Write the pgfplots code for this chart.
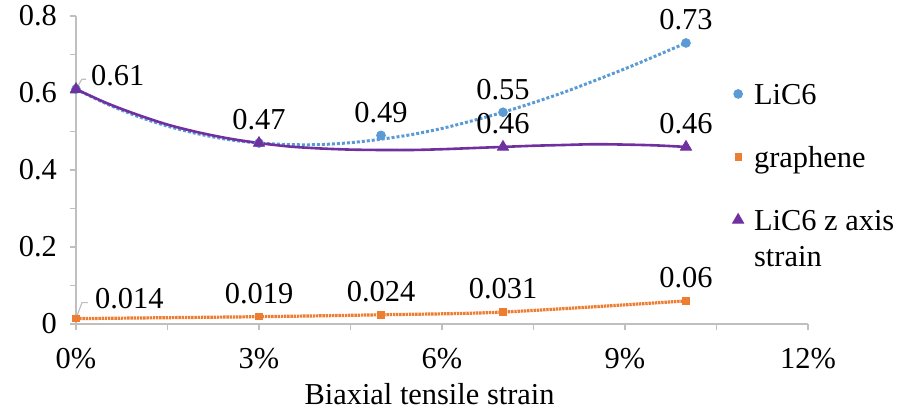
\documentclass[border=0pt]{standalone}
\usepackage{pgfplots}
\pgfplotsset{compat=1.18}
\usepackage{fontspec}
\setmainfont{Liberation Serif}
\newfontfamily\tnr{Liberation Serif}
\newcommand\lf{\tnr\fontsize{15.2}{18}\selectfont}
\definecolor{cblue}{HTML}{5B9BD5}
\definecolor{corange}{HTML}{ED7D31}
\definecolor{cpurple}{HTML}{7030A0}
\definecolor{axgray}{HTML}{BFBFBF}
\begin{document}
\begin{tikzpicture}[font=\lf]
\begin{axis}[
  name=ax, at={(0,0)}, anchor=south west,
  scale only axis, width=366pt, height=154pt,
  xmin=0, xmax=12, ymin=0, ymax=0.8,
  axis x line*=bottom, axis y line*=left,
  axis line style={axgray, line width=0.8pt, -},
  xtick={0,3,6,9,12}, xticklabels={0\%,3\%,6\%,9\%,12\%},
  minor xtick={1.5,4.5,7.5,10.5},
  ytick={0,0.2,0.4,0.6,0.8}, yticklabels={0,0.2,0.4,0.6,0.8},
  minor ytick={0.1,0.3,0.5,0.7},
  tick style={axgray, line width=0.8pt},
  tick align=outside, major tick length=3pt, minor tick length=3pt,
  tick label style={font=\lf},
  xticklabel style={yshift=-5.5pt},
  yticklabel style={xshift=-3pt},
  xlabel={Biaxial tensile strain},
  xlabel style={at={(axis description cs:0.483,0)}, anchor=north, yshift=-26pt, font=\lf},
  clip=false,
  legend style={at={(axis cs:10.75,0.636)}, anchor=north west, draw=none, fill=none,
    row sep=13.5pt, cells={anchor=base west}, inner sep=0pt,
    nodes={inner sep=0pt, text height=12.6pt, text depth=5.4pt},
    font=\lf},
  legend cell align=left,
  legend image code/.code={\path[draw=none,fill=none] (0pt,1.8pt) -- (11pt,1.8pt); \draw[mark repeat=2,mark phase=2,#1] plot coordinates {(0pt,1.8pt) (3pt,1.8pt) (6pt,1.8pt)};},
  lbl/.style={nodes near coords, point meta=explicit symbolic,
    every node near coord/.append style={anchor=center, yshift=11.5pt, text=black, font=\lf}},
]
% trend curves
\addplot[cblue, line width=1.5pt, densely dotted, smooth, forget plot] coordinates {
(0,0.610)(0.5,0.572)(1,0.540)(1.5,0.514)(2,0.494)(2.5,0.479)(3,0.470)(3.5,0.466)(4,0.466)(4.5,0.471)(5,0.480)(5.5,0.492)(6,0.508)(6.5,0.528)(7,0.550)(7.5,0.575)(8,0.602)(8.5,0.632)(9,0.663)(9.5,0.696)(10,0.730)};
\addplot[corange, line width=1.6pt, dash pattern=on 1.2pt off 0.4pt, smooth, forget plot] coordinates {
(0,0.014)(3,0.019)(5,0.024)(7,0.031)(10,0.060)};
\addplot[cpurple, line width=1.3pt, smooth, forget plot] coordinates {
(0,0.610)(0.5,0.574)(1,0.544)(1.5,0.518)(2,0.498)(2.5,0.482)(3,0.470)(3.5,0.461)(4,0.456)(4.5,0.453)(5,0.452)(5.5,0.452)(6,0.454)(6.5,0.457)(7,0.460)(7.5,0.463)(8,0.465)(8.5,0.467)(9,0.466)(9.5,0.464)(10,0.460)};
% markers with labels
\addplot[only marks, mark=*, mark size=2.2pt, color=cblue, lbl] coordinates {
(0,0.61)[] (3,0.47)[0.47] (5,0.49)[0.49] (7,0.55)[0.55] (10,0.73)[0.73]};
\addlegendentry{LiC6}
\addplot[only marks, mark=square*, mark size=1.6pt, color=corange, lbl] coordinates {
(0,0.014)[] (3,0.019)[0.019] (5,0.024)[0.024] (7,0.031)[0.031] (10,0.06)[0.06]};
\addlegendentry{graphene}
\addplot[only marks, mark=triangle*, mark size=3.2pt, color=cpurple, lbl] coordinates {
(0,0.61)[] (3,0.47)[] (7,0.46)[0.46] (10,0.46)[0.46]};
\addlegendentry{\begin{tabular}[t]{@{}l@{}}LiC6 z axis\\strain\end{tabular}}
% first-point labels
\addplot[draw=none, mark=none, forget plot, nodes near coords, point meta=explicit symbolic,
  every node near coord/.append style={anchor=west, xshift=4pt, yshift=7pt, text=black, font=\lf}] coordinates {(0,0.61)[0.61]};
\addplot[draw=none, mark=none, forget plot, nodes near coords, point meta=explicit symbolic,
  every node near coord/.append style={anchor=west, xshift=6pt, yshift=10pt, text=black, font=\lf}] coordinates {(0,0.014)[0.014]};
\draw[axgray, line width=0.6pt] (axis cs:0,0.61) -- ++(3pt,5pt) -- ++(2pt,0);
\draw[axgray, line width=0.6pt] (axis cs:0,0.014) -- ++(3pt,8pt) -- ++(3pt,0);
\end{axis}
\pgfresetboundingbox
\useasboundingbox (-38pt,-44pt) rectangle (412pt,162pt);
\end{tikzpicture}
\end{document}
